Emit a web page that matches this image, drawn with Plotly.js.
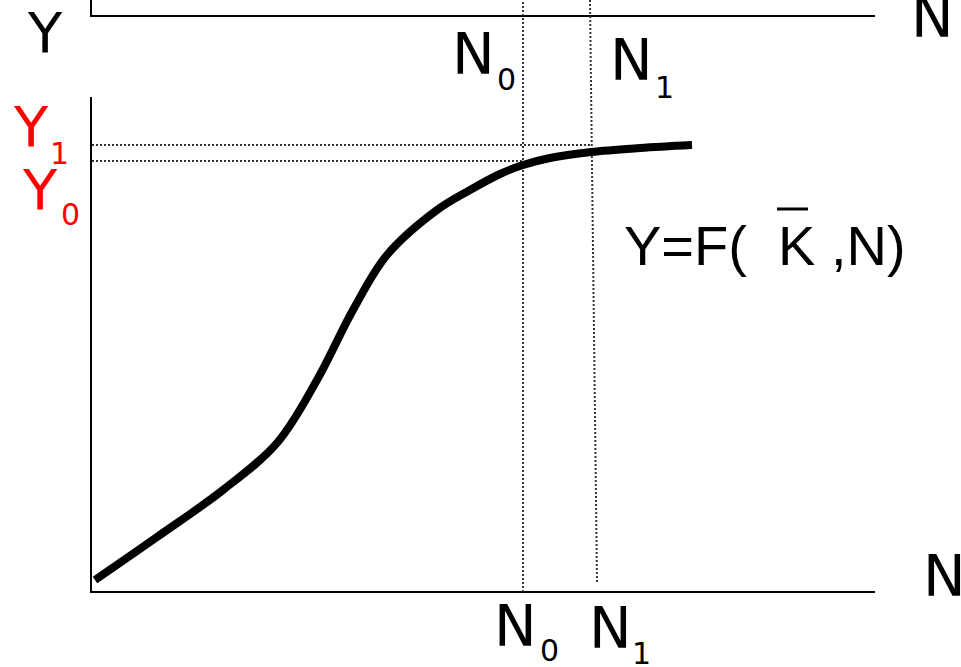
<!DOCTYPE html>
<html>
<head>
<meta charset="utf-8">
<script src="https://cdn.plot.ly/plotly-3.0.1.min.js"></script>
<style>html,body{margin:0;padding:0;background:#fff;}#chart{width:961px;height:667px;}</style>
</head>
<body>
<div id="chart"></div>
<script>
// Production function Y = F(K̄, N), units: labour N (horizontal), output Y (vertical)
const curveN = [4, 66, 132, 186, 226, 262, 296, 346, 379, 409, 432, 459, 500, 549, 601];
const curveY = [12, 55, 102, 149, 212, 282, 337, 382, 402, 418, 427, 434, 440, 444, 447];

const N0 = 432;              // initial employment
const N1Guide = [499, 506];  // N1 guide (top, bottom) as drawn
const Y0 = 431;              // output at N0
const Y1 = 447;              // output at N1

const nMax = 784;            // end of N axes
const yAxisTop = 495;        // top of lower Y axis
const upperPanelY = 576;     // horizontal axis of upper panel
const frameTop = 600;

const black = '#000000';
const dotColor = '#333333';

const traces = [
  // lower panel axes
  {x: [0, 0, nMax], y: [yAxisTop, 0, 0], mode: 'lines', line: {color: black, width: 2}, hoverinfo: 'skip'},
  // upper panel axes (partially visible)
  {x: [0, 0, nMax], y: [frameTop, upperPanelY, upperPanelY], mode: 'lines', line: {color: black, width: 2}, hoverinfo: 'skip'},
  // dotted guides
  {x: [N0, N0], y: [0, frameTop], mode: 'lines', line: {color: dotColor, width: 2, dash: '2px,2px'}, hoverinfo: 'skip'},
  {x: [N1Guide[0], N1Guide[1]], y: [frameTop - 8, 10], mode: 'lines', line: {color: dotColor, width: 2, dash: '2px,2px'}, hoverinfo: 'skip'},
  {x: [1, N1Guide[0] + 1], y: [Y1, Y1], mode: 'lines', line: {color: dotColor, width: 2, dash: '2px,2px'}, hoverinfo: 'skip'},
  {x: [1, N0], y: [Y0, Y0], mode: 'lines', line: {color: dotColor, width: 2, dash: '2px,2px'}, hoverinfo: 'skip'},
  // production function
  {x: curveN, y: curveY, mode: 'lines', line: {color: black, width: 8, shape: 'spline', smoothing: 1}, hoverinfo: 'skip'}
];

// helper: label positions relative to the axes origin
function lab(text, x, y, size, color, family) {
  return {
    text: text, x: x, y: y, xref: 'x', yref: 'y', showarrow: false,
    xanchor: 'center', yanchor: 'middle',
    font: {family: family || 'DejaVu Sans', size: size, color: color || black}
  };
}

const big = 57, small = 30;
const annotations = [
  lab('Y', -46, 560, 56),
  lab('N', 841, 575, big),
  // top N0 / N1
  lab('N', 382, 538, big), lab('0', 415, 513, small),
  lab('N', 540, 532, big), lab('1', 573, 505, small),
  // red Y1 / Y0
  lab('Y', -60, 466, 56, '#ff0000'), lab('1', -32, 439, small, '#ff0000'),
  lab('Y', -51, 403, 56, '#ff0000'), lab('0', -21, 378, small, '#ff0000'),
  // bottom N0 / N1
  lab('N', 424, -34, big), lab('0', 458, -58, small),
  lab('N', 519, -36, big), lab('1', 550, -61, small),
  // bottom-right N
  lab('N', 853, 16, big),
  // formula
  {text: 'Y=F(\u00A0\u00A0K\u00A0,N)', x: 531, y: 347, xref: 'x', yref: 'y', showarrow: false,
   xanchor: 'left', yanchor: 'middle', font: {family: 'Liberation Sans, Arial', size: 56, color: black}}
];

const shapes = [
  // bar over K
  {type: 'line', xref: 'x', yref: 'y', x0: 686, x1: 717, y0: 383, y1: 383, line: {color: black, width: 3}}
];

const layout = {
  width: 961, height: 667,
  margin: {l: 0, r: 0, t: 0, b: 0},
  paper_bgcolor: '#ffffff', plot_bgcolor: '#ffffff',
  showlegend: false,
  xaxis: {range: [-91, 870], visible: false, fixedrange: true},
  yaxis: {range: [-75, 592], visible: false, fixedrange: true},
  annotations: annotations,
  shapes: shapes
};

Plotly.newPlot('chart', traces, layout, {displayModeBar: false, staticPlot: true});
</script>
</body>
</html>
